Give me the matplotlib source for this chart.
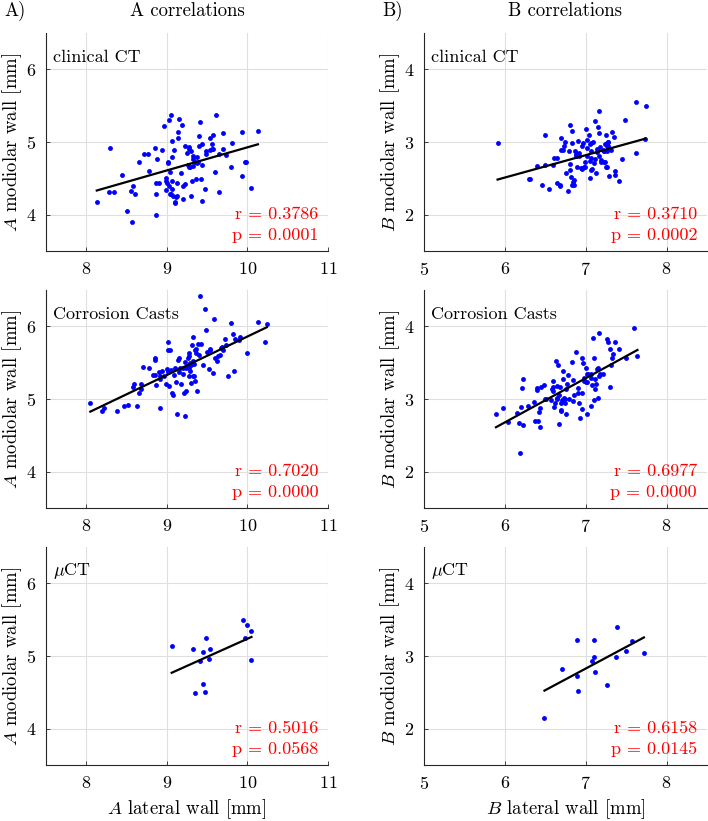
import numpy as np
import matplotlib
matplotlib.use("Agg")
import matplotlib.pyplot as plt

plt.rcParams["font.family"] = "cmr10"
plt.rcParams["mathtext.fontset"] = "cm"
plt.rcParams["axes.unicode_minus"] = False
plt.rcParams["axes.formatter.use_mathtext"] = True

# ---- A (left column) ----
a_ct_x = [8.13, 8.29, 8.28, 8.34, 8.44, 8.50, 8.55, 8.57, 8.58, 8.60, 8.66, 8.72, 8.76, 8.78,
          8.85, 8.86, 8.88, 8.90, 8.87, 8.87, 8.94, 8.96, 8.99, 8.99, 9.00, 8.99, 9.01, 9.02,
          9.03, 9.03, 9.04, 9.04, 9.05, 9.05, 9.06, 9.07, 9.07, 9.07, 9.08, 9.09, 9.10, 9.10,
          9.11, 9.13, 9.13, 9.14, 9.14, 9.15, 9.18, 9.19, 9.20, 9.20, 9.22, 9.23, 9.25, 9.26,
          9.27, 9.28, 9.28, 9.29, 9.30, 9.30, 9.31, 9.32, 9.33, 9.33, 9.35, 9.36, 9.38, 9.38,
          9.39, 9.40, 9.40, 9.41, 9.42, 9.43, 9.44, 9.44, 9.47, 9.48, 9.49, 9.53, 9.54, 9.56,
          9.56, 9.57, 9.57, 9.60, 9.61, 9.65, 9.65, 9.70, 9.70, 9.73, 9.80, 9.81, 9.93, 9.93,
          9.97, 9.98, 10.04, 10.13]
a_ct_y = [4.17, 4.92, 4.31, 4.31, 4.55, 4.05, 4.33, 3.90, 4.39, 4.28, 4.73, 4.83, 4.83, 4.60,
          4.92, 4.43, 4.77, 4.43, 4.28, 3.99, 4.89, 5.22, 4.51, 4.47, 4.43, 4.34, 4.72, 4.71,
          5.30, 4.40, 4.29, 4.59, 4.28, 5.37, 4.35, 4.80, 5.01, 4.46, 4.26, 4.89, 4.18, 4.16,
          4.25, 4.44, 4.26, 5.14, 5.05, 5.32, 4.58, 5.24, 4.22, 4.40, 4.42, 4.95, 4.85, 4.68,
          4.66, 4.93, 4.90, 4.66, 4.26, 4.87, 4.46, 4.67, 4.81, 4.77, 4.73, 4.49, 4.79, 4.71,
          4.73, 5.08, 4.94, 5.28, 4.49, 4.97, 4.68, 4.19, 4.36, 4.84, 4.87, 4.89, 5.06, 4.97,
          4.90, 5.09, 4.90, 4.59, 5.37, 4.31, 4.84, 5.12, 4.91, 4.82, 4.66, 4.99, 5.14, 4.53,
          4.72, 4.73, 4.37, 5.15]

a_cc_x = [8.05, 8.20, 8.22, 8.38, 8.47, 8.52, 8.63, 8.58, 8.59, 8.65, 8.68, 8.68, 8.70, 8.78,
          8.83, 8.85, 8.86, 8.85, 8.85, 8.90, 8.91, 8.91, 8.92, 8.94, 8.97, 8.99, 9.00, 9.01,
          9.02, 9.01, 9.04, 9.03, 9.05, 9.06, 9.08, 9.09, 9.10, 9.11, 9.12, 9.14, 9.15, 9.15,
          9.16, 9.17, 9.20, 9.20, 9.21, 9.22, 9.22, 9.24, 9.24, 9.26, 9.26, 9.27, 9.27, 9.28,
          9.28, 9.29, 9.29, 9.30, 9.30, 9.31, 9.32, 9.32, 9.33, 9.34, 9.34, 9.35, 9.35, 9.36,
          9.36, 9.38, 9.39, 9.40, 9.41, 9.42, 9.45, 9.47, 9.49, 9.50, 9.52, 9.53, 9.53, 9.57,
          9.58, 9.60, 9.62, 9.63, 9.66, 9.67, 9.68, 9.70, 9.72, 9.73, 9.76, 9.80, 9.82, 9.83,
          9.84, 9.90, 9.91, 10.00, 10.13, 10.22, 10.24]
a_cc_y = [4.95, 4.84, 4.87, 4.84, 4.91, 4.92, 4.90, 5.17, 5.20, 5.08, 5.21, 5.14, 5.44, 5.42,
          5.33, 5.33, 5.19, 5.57, 5.53, 5.37, 5.31, 4.87, 5.27, 5.38, 5.31, 5.21, 5.41, 5.78,
          5.37, 5.68, 5.67, 5.18, 5.40, 5.08, 5.05, 5.33, 5.42, 5.23, 4.79, 5.53, 5.57, 5.37,
          5.42, 5.21, 5.35, 5.42, 5.08, 4.76, 5.51, 5.43, 5.11, 5.56, 5.45, 5.31, 5.59, 5.43,
          5.63, 5.50, 5.38, 5.22, 5.47, 5.74, 5.85, 5.31, 5.52, 5.48, 5.32, 5.25, 5.67, 5.63,
          5.69, 5.11, 5.75, 5.61, 6.42, 5.76, 5.47, 6.24, 5.95, 5.64, 5.41, 5.67, 5.69, 5.36,
          6.10, 5.56, 5.52, 5.59, 5.60, 5.70, 5.72, 5.67, 5.82, 5.74, 5.32, 6.05, 5.90, 5.39,
          5.83, 5.81, 5.85, 5.63, 6.06, 5.78, 6.03]

a_mu_x = [9.06, 9.32, 9.35, 9.41, 9.45, 9.45, 9.47, 9.49, 9.52, 9.54, 9.94, 9.97, 9.99, 10.05, 10.05]
a_mu_y = [5.14, 5.09, 4.49, 4.93, 4.62, 5.06, 4.50, 5.25, 4.96, 5.10, 5.49, 5.25, 5.43, 4.95, 5.34]

# ---- B (right column) ----
b_ct_x = [5.91, 6.30, 6.31, 6.40, 6.46, 6.50, 6.50, 6.55, 6.59, 6.61, 6.64, 6.64, 6.68, 6.68,
          6.69, 6.70, 6.72, 6.73, 6.74, 6.76, 6.78, 6.79, 6.80, 6.81, 6.81, 6.82, 6.83, 6.83,
          6.83, 6.84, 6.86, 6.86, 6.87, 6.88, 6.88, 6.89, 6.90, 6.90, 6.92, 6.92, 6.94, 6.95,
          6.96, 6.96, 6.97, 6.98, 6.99, 6.99, 7.00, 7.01, 7.02, 7.02, 7.04, 7.05, 7.05, 7.05,
          7.06, 7.07, 7.07, 7.07, 7.08, 7.09, 7.10, 7.11, 7.11, 7.13, 7.14, 7.14, 7.15, 7.16,
          7.16, 7.17, 7.18, 7.19, 7.19, 7.21, 7.22, 7.22, 7.23, 7.24, 7.24, 7.25, 7.25, 7.26,
          7.26, 7.26, 7.26, 7.27, 7.27, 7.28, 7.29, 7.31, 7.32, 7.35, 7.36, 7.36, 7.41, 7.45,
          7.49, 7.62, 7.62, 7.73, 7.74]
b_ct_y = [2.98, 2.49, 2.49, 2.67, 2.41, 3.09, 2.69, 2.35, 2.69, 2.78, 2.78, 2.43, 2.41, 2.40,
          3.06, 2.89, 2.89, 2.95, 3.00, 2.58, 2.33, 2.87, 2.70, 3.23, 2.61, 2.52, 3.15, 2.99,
          2.41, 2.45, 2.48, 2.41, 2.88, 2.81, 2.84, 2.66, 3.02, 2.84, 2.85, 2.81, 2.64, 2.64,
          2.95, 2.63, 2.98, 2.65, 2.66, 2.73, 3.18, 2.92, 3.03, 2.81, 3.10, 2.74, 2.50, 2.97,
          2.88, 2.98, 2.62, 2.78, 2.63, 3.00, 2.71, 2.77, 3.29, 2.58, 2.86, 2.90, 3.20, 3.12,
          3.42, 2.81, 2.93, 2.75, 2.73, 2.89, 2.88, 2.72, 2.88, 2.97, 2.72, 3.09, 2.65, 2.94,
          2.98, 2.66, 2.87, 2.95, 3.00, 3.00, 2.53, 2.89, 3.14, 3.07, 2.54, 2.60, 2.47, 2.76,
          3.30, 3.55, 2.85, 3.04, 3.49]

b_cc_x = [5.89, 5.98, 6.04, 6.15, 6.17, 6.19, 6.20, 6.21, 6.23, 6.23, 6.29, 6.36, 6.37, 6.40,
          6.40, 6.41, 6.42, 6.43, 6.44, 6.45, 6.49, 6.50, 6.51, 6.57, 6.58, 6.59, 6.60, 6.60,
          6.61, 6.62, 6.63, 6.64, 6.64, 6.65, 6.66, 6.67, 6.67, 6.68, 6.69, 6.69, 6.70, 6.71,
          6.72, 6.72, 6.73, 6.74, 6.74, 6.75, 6.76, 6.77, 6.78, 6.79, 6.83, 6.84, 6.84, 6.85,
          6.88, 6.90, 6.91, 6.92, 6.93, 6.95, 6.96, 6.96, 6.97, 6.98, 6.98, 7.00, 7.00, 7.01,
          7.02, 7.02, 7.03, 7.06, 7.07, 7.07, 7.08, 7.09, 7.10, 7.10, 7.11, 7.12, 7.13, 7.14,
          7.15, 7.15, 7.16, 7.17, 7.18, 7.21, 7.26, 7.27, 7.30, 7.30, 7.31, 7.33, 7.34, 7.36,
          7.41, 7.50, 7.60, 7.64]
b_cc_y = [2.80, 2.88, 2.69, 2.81, 2.67, 2.26, 2.89, 3.15, 3.27, 2.64, 2.90, 2.96, 2.70, 3.13,
          3.15, 2.70, 2.82, 2.88, 2.61, 3.17, 3.19, 3.00, 3.00, 2.98, 3.14, 3.17, 3.11, 3.25,
          2.89, 2.94, 3.52, 3.00, 3.02, 3.18, 3.47, 3.05, 2.66, 3.16, 2.94, 2.85, 2.84, 2.99,
          3.27, 3.38, 3.02, 2.95, 3.00, 3.14, 2.79, 3.21, 3.33, 3.00, 3.51, 3.26, 2.97, 3.06,
          3.65, 3.08, 3.15, 2.94, 2.74, 3.56, 3.08, 2.86, 3.49, 3.25, 3.29, 3.42, 3.23, 3.23,
          2.79, 3.35, 3.34, 2.90, 3.34, 3.29, 3.19, 3.84, 2.99, 3.57, 3.27, 3.14, 3.21, 3.41,
          3.02, 3.42, 3.91, 3.32, 3.34, 3.34, 3.82, 3.78, 3.16, 3.69, 3.47, 3.57, 3.62, 3.78,
          3.69, 3.56, 3.98, 3.59]

b_mu_x = [6.49, 6.71, 6.89, 6.89, 6.91, 7.08, 7.10, 7.10, 7.11, 7.26, 7.37, 7.39, 7.50, 7.57, 7.72]
b_mu_y = [2.15, 2.82, 3.22, 2.73, 2.52, 2.93, 3.22, 2.99, 2.78, 2.60, 2.98, 3.40, 3.07, 3.20, 3.04]

row_names = ["clinical CT", "Corrosion Casts", r"$\mu$CT"]
a_stats = [("0.3786", "0.0001"), ("0.7020", "0.0000"), ("0.5016", "0.0568")]
b_stats = [("0.3710", "0.0002"), ("0.6977", "0.0000"), ("0.6158", "0.0145")]
a_xticks = [8, 9, 10, 11]
a_yticks = [4, 5, 6]
b_xticks = [5, 6, 7, 8]
b_yticks = [2, 3, 4]

FS = 13
W, H = 708, 821
fig = plt.figure(figsize=(W / 100, H / 100), dpi=100)

# axes boxes in pixels: (left, right) and (top, bottom)
col_px = [(46, 328), (424, 707)]
row_px = [(33, 251), (290, 508), (547, 765)]

cols = [
    dict(data=[(a_ct_x, a_ct_y), (a_cc_x, a_cc_y), (a_mu_x, a_mu_y)], stats=a_stats,
         xlim=(7.5, 11), ylim=(3.5, 6.5), xt=a_xticks, yt=a_yticks, v="A"),
    dict(data=[(b_ct_x, b_ct_y), (b_cc_x, b_cc_y), (b_mu_x, b_mu_y)], stats=b_stats,
         xlim=(5, 8.5), ylim=(1.5, 4.5), xt=b_xticks, yt=b_yticks, v="B"),
]

for ci, col in enumerate(cols):
    x0, x1 = col_px[ci]
    for ri in range(3):
        t, b = row_px[ri]
        ax = fig.add_axes([x0 / W, 1 - b / H, (x1 - x0) / W, (b - t) / H])
        x, y = col["data"][ri]
        x = np.array(x); y = np.array(y)
        ax.plot(x, y, "o", color="#0000ff", ms=3.5, mew=0)
        k, c = np.polyfit(x, y, 1)
        xs = np.array([x.min(), x.max()])
        ax.plot(xs, k * xs + c, color="black", lw=1.6)
        ax.set_xlim(col["xlim"]); ax.set_ylim(col["ylim"])
        ax.set_xticks(col["xt"]); ax.set_yticks(col["yt"])
        ax.grid(True, color="#dfdfdf", lw=0.8)
        ax.set_axisbelow(True)
        for s in ("top", "right"):
            ax.spines[s].set_visible(False)
        for s in ("left", "bottom"):
            ax.spines[s].set_color("#262626"); ax.spines[s].set_linewidth(0.8)
        ax.tick_params(direction="in", length=3, width=0.6, color="#262626",
                       labelsize=FS, pad=7)
        ax.text(0.025, 0.89, row_names[ri], transform=ax.transAxes,
                fontsize=FS, va="center", ha="left")
        r, p = col["stats"][ri]
        ax.text(0.965, 0.168, f"r = {r}", transform=ax.transAxes, color="red",
                fontsize=FS, va="center", ha="right")
        ax.text(0.965, 0.07, f"p = {p}", transform=ax.transAxes, color="red",
                fontsize=FS, va="center", ha="right")
        ax.set_ylabel(f"${col['v']}$ modiolar wall [mm]", fontsize=13.5)
        ax.yaxis.set_label_coords(-0.078, 0.5)
        if ri == 2:
            ax.set_xlabel(f"${col['v']}$ lateral wall [mm]", fontsize=13.5)
            ax.xaxis.set_label_coords(0.5, -0.15)
    fig.text((x0 + x1) / 2 / W, 1 - 11 / H, f"{col['v']} correlations",
             fontsize=13.5, ha="center", va="center")
    fig.text((x0 - 42) / W, 1 - 11 / H, f"{col['v']})", fontsize=13.5,
             ha="left", va="center")

fig.savefig("out.png", dpi=100)
